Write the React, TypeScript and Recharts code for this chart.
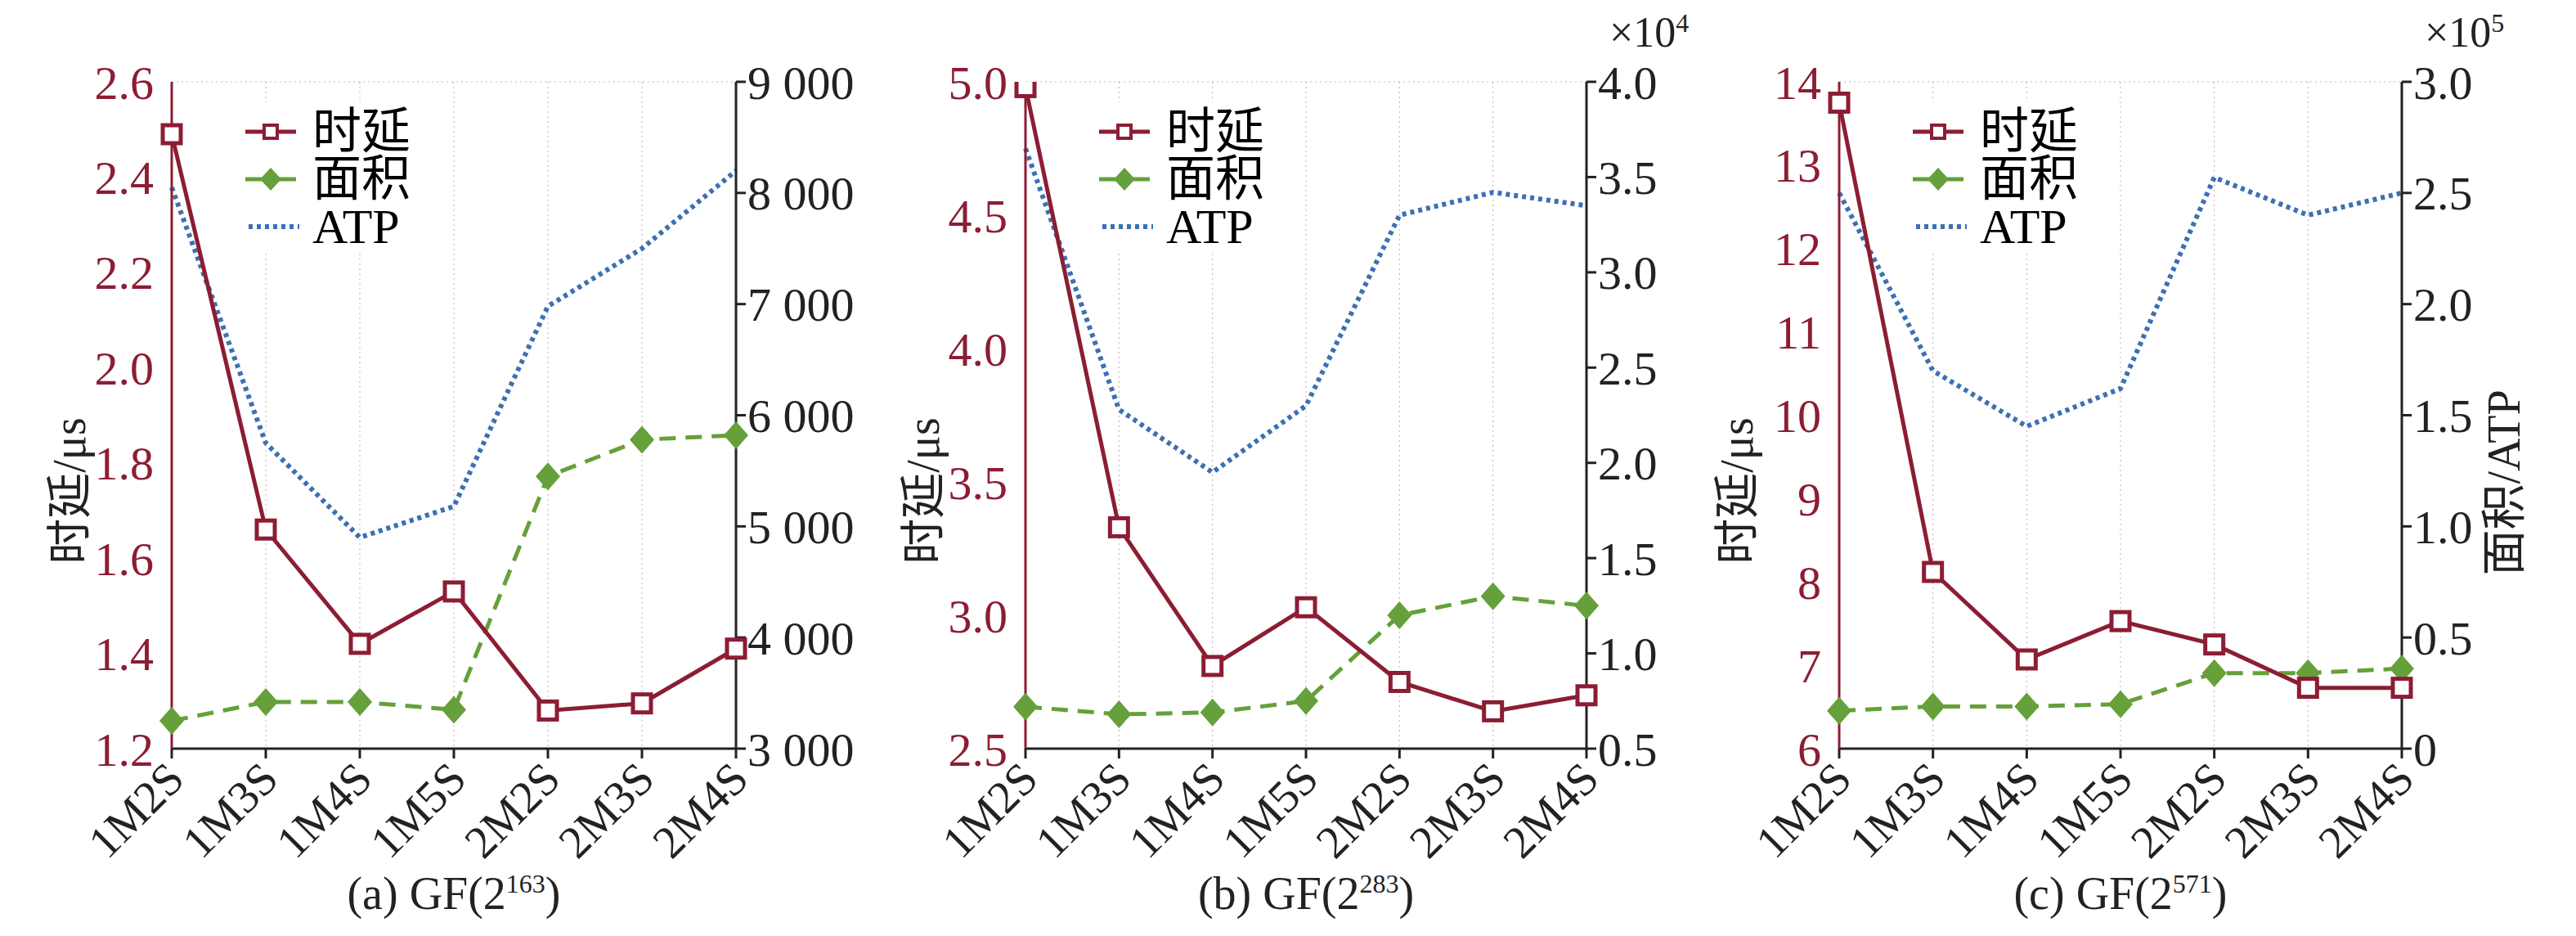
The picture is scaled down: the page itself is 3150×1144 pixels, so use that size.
import { LineChart, Line, XAxis, YAxis, CartesianGrid } from "recharts";

const categories = ["1M2S", "1M3S", "1M4S", "1M5S", "2M2S", "2M3S", "2M4S"];

// (a) GF(2^163)
const delayA = [2.49, 1.66, 1.42, 1.53, 1.28, 1.295, 1.41];
const areaA = [3250, 3420, 3420, 3350, 5450, 5780, 5820];
const atpA = [8050, 5750, 4900, 5180, 6980, 7500, 8200];
// (b) GF(2^283), right axis in 1e4
const delayB = [4.98, 3.33, 2.81, 3.03, 2.75, 2.64, 2.7];
const areaB = [0.72, 0.68, 0.69, 0.75, 1.2, 1.3, 1.25];
const atpB = [3.65, 2.28, 1.95, 2.3, 3.3, 3.42, 3.35];
// (c) GF(2^571), right axis in 1e5
const delayC = [13.75, 8.12, 7.07, 7.53, 7.25, 6.73, 6.73];
const areaC = [0.17, 0.19, 0.19, 0.2, 0.34, 0.34, 0.36];
const atpC = [2.5, 1.7, 1.45, 1.62, 2.57, 2.4, 2.5];

const RED = "#8c1d33";
const GREEN = "#65a03a";
const BLUE = "#3b70b5";
const FONT = "'Liberation Serif', 'Noto Sans CJK SC', serif";

const Square = (p: any) => (
  <rect key={p.index} x={p.cx - 11} y={p.cy - 11} width={22} height={22} fill="#fff" stroke={RED} strokeWidth={5} />
);
const Diamond = (p: any) => (
  <path key={p.index} d={`M${p.cx},${p.cy - 17} L${p.cx + 15},${p.cy} L${p.cx},${p.cy + 17} L${p.cx - 15},${p.cy} Z`} fill={GREEN} />
);

const XTick = (p: any) => (
  <text x={p.x + 18} y={p.y + 26} textAnchor="end" transform={`rotate(-45 ${p.x + 18} ${p.y + 26})`} fontSize={56} fontFamily={FONT} fill="#222">
    {p.payload.value}
  </text>
);

interface PanelProps {
  left: number;
  delay: number[];
  area: number[];
  atp: number[];
  leftDomain: [number, number];
  leftTicks: number[];
  rightDomain: [number, number];
  rightTicks: number[];
  rightFmt: (v: number) => string;
  yW: number;
  rW: number;
  caption: string;
  exp: string;
  mult?: string;
  rightLabel?: boolean;
}

function Panel(p: PanelProps) {
  const data = categories.map((c, i) => ({ c, d: p.delay[i], a: p.area[i], t: p.atp[i] }));
  const plotL = p.yW;
  const plotR = 1050 - p.rW;
  return (
    <div style={{ position: "absolute", left: p.left, top: 0, width: 1050, height: 1144, fontFamily: FONT }}>
      <LineChart width={1050} height={1144} data={data} margin={{ top: 100, right: 0, left: 0, bottom: 0 }}>
        <CartesianGrid strokeDasharray="2 4" stroke="#cfa9b0" />
        <XAxis dataKey="c" height={229} interval={0} tick={<XTick />} stroke="#222" strokeWidth={3} tickSize={12} />
        <YAxis yAxisId="l" width={p.yW} domain={p.leftDomain} ticks={p.leftTicks} allowDataOverflow
          stroke={RED} strokeWidth={3} tickLine={false}
          tick={{ fill: RED, fontSize: 58, fontFamily: FONT }} tickMargin={16}
          tickFormatter={(v: number) => (p.leftTicks[1] - p.leftTicks[0] < 1 ? v.toFixed(1) : String(v))} />
        <YAxis yAxisId="r" orientation="right" width={p.rW} domain={p.rightDomain} ticks={p.rightTicks} allowDataOverflow
          stroke="#222" strokeWidth={3} tickSize={12}
          tick={{ fill: "#222", fontSize: 58, fontFamily: FONT }} tickFormatter={p.rightFmt} />
        <Line yAxisId="r" dataKey="t" stroke={BLUE} strokeWidth={6} strokeDasharray="5 5" dot={false} isAnimationActive={false} />
        <Line yAxisId="r" dataKey="a" stroke={GREEN} strokeWidth={5} strokeDasharray="20 12" dot={Diamond} isAnimationActive={false} />
        <Line yAxisId="l" dataKey="d" stroke={RED} strokeWidth={5} dot={Square} isAnimationActive={false} />
      </LineChart>
      {/* legend */}
      <div style={{ position: "absolute", left: plotL + 90, top: 125, width: 230, height: 185, background: "#fff" }}>
        <svg width={230} height={185} style={{ position: "absolute", left: 0, top: 0 }}>
          <line x1={0} y1={36} x2={62} y2={36} stroke={RED} strokeWidth={5} />
          <rect x={23} y={28} width={16} height={16} fill="#fff" stroke={RED} strokeWidth={4} />
          <line x1={0} y1={94} x2={62} y2={94} stroke={GREEN} strokeWidth={5} />
          <path d="M31,80 L44,94 L31,108 L18,94 Z" fill={GREEN} />
          <line x1={4} y1={152} x2={66} y2={152} stroke={BLUE} strokeWidth={6} strokeDasharray="5 5" />
          <text x={82} y={56} fontSize={60} fontFamily={FONT}>时延</text>
          <text x={82} y={114} fontSize={60} fontFamily={FONT}>面积</text>
          <text x={82} y={172} fontSize={60} fontFamily={FONT}>ATP</text>
        </svg>
      </div>
      <div style={{ position: "absolute", left: plotL - 125 - 110, top: 570, width: 220, fontSize: 56, lineHeight: "60px", transform: "rotate(-90deg)", textAlign: "center", whiteSpace: "nowrap", color: "#222" }}>
        时延/μs
      </div>
      {p.rightLabel && (
        <div style={{ position: "absolute", left: plotR + 125 - 130, top: 560, width: 260, fontSize: 56, lineHeight: "60px", transform: "rotate(-90deg)", whiteSpace: "nowrap", textAlign: "center", color: "#222" }}>
          面积/ATP
        </div>
      )}
      {p.mult && (
        <div style={{ position: "absolute", left: plotR + 28, top: 10, fontSize: 52, color: "#222" }}>
          ×10<sup style={{ fontSize: 32 }}>{p.mult}</sup>
        </div>
      )}
      <div style={{ position: "absolute", left: plotL, width: plotR - plotL, top: 1060, textAlign: "center", fontSize: 56, color: "#222" }}>
        {p.caption} GF(2<sup style={{ fontSize: 32 }}>{p.exp}</sup>)
      </div>
    </div>
  );
}

export default function App() {
  return (
    <div style={{ position: "absolute", left: 0, top: 0, width: 3150, height: 1144, background: "#fff" }}>
      <Panel left={0} delay={delayA} area={areaA} atp={atpA} leftDomain={[1.2, 2.6]} leftTicks={[1.2, 1.4, 1.6, 1.8, 2.0, 2.2, 2.4, 2.6]}
        rightDomain={[3000, 9000]} rightTicks={[3000, 4000, 5000, 6000, 7000, 8000, 9000]}
        rightFmt={(v) => `${Math.floor(v / 1000)} 000`} yW={210} rW={150} caption="(a)" exp="163" />
      <Panel left={1050} delay={delayB} area={areaB} atp={atpB} leftDomain={[2.5, 5.0]} leftTicks={[2.5, 3.0, 3.5, 4.0, 4.5, 5.0]}
        rightDomain={[0.5, 4.0]} rightTicks={[0.5, 1.0, 1.5, 2.0, 2.5, 3.0, 3.5, 4.0]}
        rightFmt={(v) => v.toFixed(1)} yW={204} rW={160} caption="(b)" exp="283" mult="4" />
      <Panel left={2100} delay={delayC} area={areaC} atp={atpC} leftDomain={[6, 14]} leftTicks={[6, 7, 8, 9, 10, 11, 12, 13, 14]}
        rightDomain={[0, 3.0]} rightTicks={[0, 0.5, 1.0, 1.5, 2.0, 2.5, 3.0]}
        rightFmt={(v) => (v === 0 ? "0" : v.toFixed(1))} yW={149} rW={213} caption="(c)" exp="571" mult="5" rightLabel />
    </div>
  );
}
